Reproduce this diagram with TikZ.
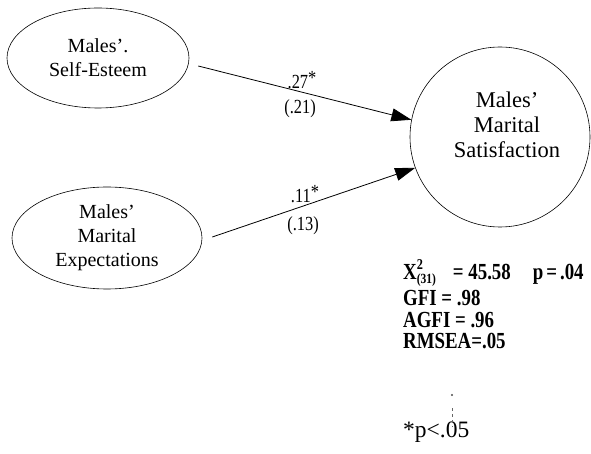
\documentclass[tikz,border=0pt]{standalone}
\usepackage{fontspec}
\setmainfont{Liberation Serif}
\newfontfamily\narrowserif[FakeStretch=0.82]{Liberation Serif}
\newfontfamily\statserif[FakeStretch=0.82]{Liberation Serif}
\usetikzlibrary{shapes.geometric,arrows.meta}

% chi-square symbol with stacked superscript and subscript
\newcommand{\chisqdf}[2]{X\rlap{\raisebox{0.9ex}{\fontsize{15}{15}\selectfont #1}}\raisebox{-0.45ex}{\fontsize{14}{14}\selectfont (#2)}}

\tikzset{
  latent/.style={draw, ellipse, line width=0.6pt, inner sep=0pt,
    align=center, font=\fontsize{20}{24}\selectfont},
  outcome/.style={draw, circle, line width=0.6pt, inner sep=0pt},
  outcometext/.style={inner sep=0pt, align=center,
    font=\fontsize{22.5}{25}\selectfont},
  path arrow/.style={line width=0.8pt, -{Triangle[length=20pt,width=13pt]}},
  coef/.style={inner sep=0pt, font=\narrowserif\fontsize{20}{20}\selectfont},
  stat/.style={inner sep=0pt, anchor=base west,
    font=\statserif\bfseries\fontsize{23}{23}\selectfont},
  note/.style={inner sep=0pt, anchor=base west, font=\fontsize{23.5}{24}\selectfont}
}

\begin{document}
\begin{tikzpicture}[x=1pt,y=-1pt]
  \useasboundingbox (0,0) rectangle (591,454);

  % latent constructs
  \node[latent, minimum width=182pt, minimum height=100pt] (se) at (98,58)
    {Males'.\\Self-Esteem};
  \node[latent, minimum width=190pt, minimum height=102pt] (exp) at (107,238)
    {Males'\\Marital\\Expectations};
  \node[outcome, minimum size=180pt] (sat) at (500,137) {};
  \node[outcometext] (satlabel) at (507,125) {Males'\\Marital\\Satisfaction};

  % structural paths
  \draw[path arrow] ([xshift=9pt,yshift=-8pt]se.east) -- (sat.169);
  \draw[path arrow] ([xshift=10pt,yshift=1pt]exp.east) -- (sat.200);

  % path coefficients
  \node[coef] (c1) at (302,80) {.27\raisebox{0.35ex}{*}};
  \node[coef] (s1) at (300,109) {(.21)};
  \node[coef] (c2) at (305,194) {.11\raisebox{0.35ex}{*}};
  \node[coef] (s2) at (303,226) {(.13)};

  % fit statistics
  \node[stat] (chi) at (403,279)
    {\chisqdf{2}{31}\hspace{17pt}= 45.58\hspace{22pt}p\hspace{3pt}=\hspace{3pt}.04};
  \node[stat] (gfi) at (403,305) {GFI = .98};
  \node[stat] (agfi) at (403,327) {AGFI = .96};
  \node[stat] (rmsea) at (403,348) {RMSEA=.05};

  % significance note
  \node[note] (sig) at (403,437) {*p<.05};
  \coordinate (tickA) at (452,408);
  \coordinate (tickB) at (452,427);
  \fill[black!70] (452,395) circle (1.1pt);
  \draw[black!60, line width=0.5pt, dash pattern=on 3pt off 3pt] (tickA) -- (tickB);
\end{tikzpicture}
\end{document}
